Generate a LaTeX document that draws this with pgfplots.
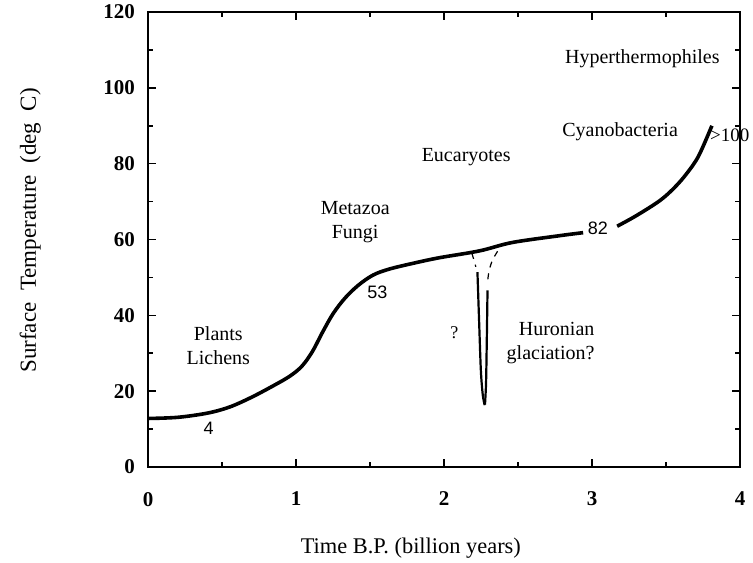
\documentclass[border=0pt]{standalone}
\usepackage{fontspec}
\setmainfont{Liberation Serif}
\newfontfamily\arialish{Liberation Sans}
\usepackage{pgfplots}
\pgfplotsset{compat=1.18}

\begin{document}
\begin{tikzpicture}
\begin{axis}[
  name=ax,
  width=296pt, height=227.5pt, scale only axis,
  xmin=0, xmax=4, ymin=0, ymax=120,
  xtick={0,1,2,3,4}, ytick={0,20,40,60,80,100,120},
  minor xtick={0.5,1.5,2.5,3.5},
  minor ytick={10,30,50,70,90,110},
  tick align=inside,
  major tick length=4pt, minor tick length=2.5pt,
  axis line style={line width=0.8pt},
  every tick/.style={line width=0.8pt, black},
  /pgf/number format/assume math mode=true,
  tick label style={font=\bfseries\fontsize{10.5}{12}\selectfont},
  xticklabel style={yshift=-9pt},
  yticklabel style={xshift=-3pt},
  xlabel={Time B.P. (billion years)},
  ylabel={Surface\ \ Temperature\ \ (deg\ \ C)},
  xlabel style={font=\fontsize{11.2}{13}\selectfont, at={(axis description cs:0.444,-0.178)}, anchor=center},
  ylabel style={font=\fontsize{11.5}{13}\selectfont, at={(axis description cs:-0.199,0.52)}, anchor=center},
  clip=false,
]
% main temperature curve
\addplot[black, line width=1.8pt, smooth, tension=0.55] coordinates {
  (0,12.8) (0.2,13.1) (0.4,14.2) (0.55,15.8) (0.7,18.4) (0.85,21.5)
  (0.96,24.0) (1.04,26.6) (1.11,30.4) (1.18,35.6) (1.25,40.4) (1.33,44.5)
  (1.42,47.9) (1.52,50.6) (1.63,52.2) (1.8,53.8) (1.97,55.2) (2.24,57.0)
  (2.46,59.2) (2.78,61.0) (2.94,61.8)};
\addplot[black, line width=1.8pt, smooth, tension=0.55] coordinates {
  (3.17,63.5) (3.3,66.3) (3.46,70.3) (3.56,73.8) (3.64,77.4) (3.72,82.0)
  (3.81,90.0)};
% Huronian glaciation dip
\addplot[black, line width=0.6pt, dashed, smooth] coordinates {
  (2.188,56.4) (2.203,54.5) (2.215,52.8)};
\addplot[black, line width=0.6pt, dashed, smooth] coordinates {
  (2.362,56.9) (2.327,54.5) (2.305,51.8) (2.294,48.8)};
\addplot[black, line width=1.1pt, smooth] coordinates {
  (2.226,51.4) (2.237,38.7) (2.249,25.5) (2.262,19.0) (2.275,16.3)};
\addplot[black, line width=1.1pt, smooth] coordinates {
  (2.294,46.6) (2.289,33.0) (2.284,22.0) (2.277,16.5)};
% labels
\node[font=\fontsize{10}{12}\selectfont] at (axis cs:3.34,107.6) {Hyperthermophiles};
\node[font=\fontsize{10}{12}\selectfont] at (axis cs:3.19,88.4) {Cyanobacteria};
\node[font=\fontsize{10}{12}\selectfont] at (axis cs:2.15,81.6) {Eucaryotes};
\node[font=\fontsize{10}{12}\selectfont, align=center] at (axis cs:1.40,64.6) {Metazoa\\Fungi};
\node[font=\fontsize{10}{12}\selectfont, align=center] at (axis cs:0.475,32.1) {Plants\\Lichens};
\node[font=\fontsize{10}{12}\selectfont, align=right] at (axis cs:2.72,32.6) {Huronian\\glaciation?};
\node[font=\fontsize{9}{11}\selectfont] at (axis cs:2.07,35.5) {?};
\node[font=\arialish\fontsize{9}{11}\selectfont] at (axis cs:0.41,10.3) {4};
\node[font=\arialish\fontsize{9}{11}\selectfont] at (axis cs:1.55,46.0) {53};
\node[font=\arialish\fontsize{9}{11}\selectfont] at (axis cs:3.04,62.9) {82};
\node[font=\fontsize{9.5}{11}\selectfont, inner sep=0pt] at (axis cs:3.93,87.6) {>100};
\end{axis}
\pgfresetboundingbox
\path ([shift={(-74pt,-47.5pt)}]ax.south west) rectangle ([shift={(6.5pt,6pt)}]ax.north east);
\end{tikzpicture}
\end{document}
